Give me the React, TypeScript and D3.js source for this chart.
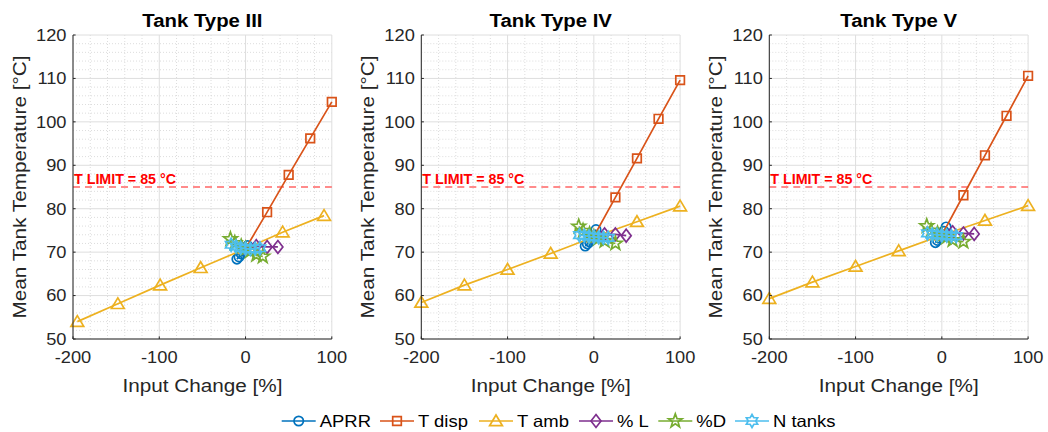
import React from 'react';
import * as d3 from 'd3';

// ---- axis settings ----
const xTicks = [-200, -100, 0, 100];
const yTicks = [50, 60, 70, 80, 90, 100, 110, 120];
const xDomain: [number, number] = [-200, 100];
const yDomain: [number, number] = [50, 120];
const tLimit = 85;
const panelTitles = ['Tank Type III', 'Tank Type IV', 'Tank Type V'];
const seriesNames = ['APRR', 'T disp', 'T amb', '% L', '%D', 'N tanks'];

// ---- shared input-change values ----
const tdispX = [0, 25, 50, 75, 100];
const tambX = [-200, -150, -100, -50, 0, 50, 100];
const pctLX = [0, 12.5, 25, 37.5];
const nTanksX = [-16.7, -11.1, -5.6, 0, 5.6, 11.1, 16.7];

// ---- Tank Type III ----
const aprrX3 = [-10, -7.5, -5, -2.5, 0, 2.5];
const aprrT3 = [68.4, 68.9, 69.6, 70.2, 70.8, 71.5];
const tdispT3 = [70.8, 79.2, 87.8, 96.2, 104.6];
const tambX3 = [-195, -148, -99, -52, 0, 43, 91];
const tambT3 = [54.0, 58.1, 62.4, 66.4, 70.8, 74.6, 78.4];
const pctLT3 = [70.8, 71.4, 71.2, 71.2];
const pctDX3 = [-17.5, -12.5, -5, 0, 5, 12.5, 20];
const pctDT3 = [73.0, 72.1, 71.3, 70.8, 70.2, 69.4, 69.0];
const nTanksT3 = [71.7, 71.3, 71.0, 70.8, 70.7, 70.8, 70.9];

// ---- Tank Type IV ----
const aprrX4 = [-10, -7.5, -5, -2.5, 0, 2.5];
const aprrT4 = [71.4, 71.9, 72.4, 72.9, 73.6, 75.2];
const tdispT4 = [73.6, 82.6, 91.6, 100.7, 109.6];
const tambT4 = [58.4, 62.4, 66.0, 69.7, 73.5, 77.0, 80.6];
const pctLT4 = [73.5, 74.1, 74.1, 73.8];
const pctDX4 = [-17.5, -12.5, -5, 0, 5, 12.5, 25];
const pctDT4 = [75.9, 74.9, 74.1, 73.5, 73.1, 72.6, 72.0];
const nTanksT4 = [73.9, 73.8, 73.6, 73.5, 73.4, 73.3, 73.3];

// ---- Tank Type V ----
const aprrX5 = [-7.5, -5, -2.5, 0, 2.5, 5];
const aprrT5 = [72.2, 72.7, 73.2, 73.9, 74.8, 75.8];
const tdispT5 = [73.9, 83.1, 92.3, 101.4, 110.6];
const tambT5 = [59.3, 63.1, 66.7, 70.3, 73.9, 77.3, 80.7];
const pctLT5 = [73.9, 74.6, 74.3, 74.2];
const pctDX5 = [-17.5, -12.5, -5, 0, 5, 12.5, 25];
const pctDT5 = [76.0, 75.0, 74.3, 73.9, 73.4, 72.8, 72.4];
const nTanksT5 = [74.3, 74.1, 74.0, 73.9, 73.8, 73.7, 73.7];

const colors = ['#0072BD', '#D95319', '#EDB120', '#7E2F8E', '#77AC30', '#4DBEEE'];
const markers = ['o', 's', '^', 'd', 'p', 'h'];

type Series = { x: number[]; y: number[] };

const panelData: Series[][] = [
  [
    { x: aprrX3, y: aprrT3 },
    { x: tdispX, y: tdispT3 },
    { x: tambX3, y: tambT3 },
    { x: pctLX, y: pctLT3 },
    { x: pctDX3, y: pctDT3 },
    { x: nTanksX, y: nTanksT3 },
  ],
  [
    { x: aprrX4, y: aprrT4 },
    { x: tdispX, y: tdispT4 },
    { x: tambX, y: tambT4 },
    { x: pctLX, y: pctLT4 },
    { x: pctDX4, y: pctDT4 },
    { x: nTanksX, y: nTanksT4 },
  ],
  [
    { x: aprrX5, y: aprrT5 },
    { x: tdispX, y: tdispT5 },
    { x: tambX, y: tambT5 },
    { x: pctLX, y: pctLT5 },
    { x: pctDX5, y: pctDT5 },
    { x: nTanksX, y: nTanksT5 },
  ],
];

// ---- layout ----
const W = 1048;
const H = 432;
const panelLefts = [73, 421.3, 769.3];
const plotW = 258.8;
const plotTop = 35;
const plotBottom = 339;
const FONT = '"Liberation Sans", Arial, Helvetica, sans-serif';
const SX = 1.12; // horizontal stretch of the glyphs
const textColor = '#262626';
const SW = 1.7; // line and marker stroke width

function starPath(n: number, rOut: number, rIn: number): string {
  const pts: [number, number][] = [];
  for (let i = 0; i < n * 2; i++) {
    const r = i % 2 === 0 ? rOut : rIn;
    const a = -Math.PI / 2 + (i * Math.PI) / n;
    pts.push([r * Math.cos(a), r * Math.sin(a)]);
  }
  return 'M' + pts.map((p) => p[0].toFixed(2) + ',' + p[1].toFixed(2)).join('L') + 'Z';
}

function markerPath(kind: string): string {
  switch (kind) {
    case 'o': {
      const p = d3.path();
      p.arc(0, 0, 4.7, 0, Math.PI * 2);
      p.closePath();
      return p.toString();
    }
    case 's':
      return 'M-4.3,-4.3L4.3,-4.3L4.3,4.3L-4.3,4.3Z';
    case '^':
      return 'M0,-6L6.4,4.7L-6.4,4.7Z';
    case 'd':
      return 'M0,-6.4L5,0L0,6.4L-5,0Z';
    case 'p':
      return starPath(5, 7.2, 2.9);
    case 'h':
      return starPath(6, 6.5, 3.75);
    default:
      return '';
  }
}

function Panel({ idx }: { idx: number }) {
  const left = panelLefts[idx];
  const x = d3.scaleLinear().domain(xDomain).range([left, left + plotW]);
  const y = d3.scaleLinear().domain(yDomain).range([plotBottom, plotTop]);
  const line = d3
    .line<[number, number]>()
    .x((d) => x(d[0]))
    .y((d) => y(d[1]));

  const minorX = d3.range(xDomain[0], xDomain[1] + 0.1, 20).filter((v) => !xTicks.includes(v));
  const minorY = d3.range(yDomain[0], yDomain[1] + 0.1, 2).filter((v) => !yTicks.includes(v));
  const cx = left + plotW / 2;

  return (
    <g>
      {/* minor grid */}
      {minorX.map((v) => (
        <line key={'mx' + v} x1={x(v)} x2={x(v)} y1={plotTop} y2={plotBottom}
          stroke="#cfcfcf" strokeWidth={0.7} strokeDasharray="1 2" />
      ))}
      {minorY.map((v) => (
        <line key={'my' + v} x1={left} x2={left + plotW} y1={y(v)} y2={y(v)}
          stroke="#cfcfcf" strokeWidth={0.7} strokeDasharray="1 2" />
      ))}
      {/* major grid */}
      {xTicks.map((v) => (
        <line key={'gx' + v} x1={x(v)} x2={x(v)} y1={plotTop} y2={plotBottom}
          stroke="#dedede" strokeWidth={1} />
      ))}
      {yTicks.map((v) => (
        <line key={'gy' + v} x1={left} x2={left + plotW} y1={y(v)} y2={y(v)}
          stroke="#dedede" strokeWidth={1} />
      ))}

      {/* temperature limit */}
      <line x1={left} x2={left + plotW} y1={y(tLimit)} y2={y(tLimit)}
        stroke="#ff3030" strokeOpacity={0.75} strokeWidth={1.6} strokeDasharray="7 5" />
      <text transform={`translate(${left + 1},${y(tLimit) - 3.5}) scale(1.02,1)`}
        fontFamily={FONT} fontSize={14} fontWeight="bold" fill="#ff0000">
        T LIMIT = 85 °C
      </text>

      {/* data series */}
      {panelData[idx].map((s, si) => {
        const pts: [number, number][] = s.x.map((v, i) => [v, s.y[i]]);
        return (
          <g key={'s' + si}>
            <path d={line(pts) || ''} fill="none" stroke={colors[si]} strokeWidth={SW} />
            {pts.map((p, i) => (
              <path key={i} d={markerPath(markers[si])}
                transform={`translate(${x(p[0])},${y(p[1])})`}
                fill="none" stroke={colors[si]} strokeWidth={SW} strokeLinejoin="miter" />
            ))}
          </g>
        );
      })}

      {/* axes */}
      <line x1={left} x2={left} y1={plotTop} y2={plotBottom} stroke={textColor} strokeWidth={1} />
      <line x1={left} x2={left + plotW} y1={plotBottom} y2={plotBottom} stroke={textColor} strokeWidth={1} />
      {xTicks.map((v) => (
        <line key={'tx' + v} x1={x(v)} x2={x(v)} y1={plotBottom} y2={plotBottom - 2.6}
          stroke={textColor} strokeWidth={1} />
      ))}
      {yTicks.map((v) => (
        <line key={'ty' + v} x1={left} x2={left + 2.6} y1={y(v)} y2={y(v)}
          stroke={textColor} strokeWidth={1} />
      ))}

      {/* tick labels */}
      {xTicks.map((v) => (
        <text key={'lx' + v} transform={`translate(${x(v)},${plotBottom + 24.4}) scale(${SX},1)`}
          textAnchor="middle" fontFamily={FONT} fontSize={16.3} fill={textColor}>
          {v}
        </text>
      ))}
      {yTicks.map((v) => (
        <text key={'ly' + v} transform={`translate(${left - 6.5},${y(v) + 5.8}) scale(${SX},1)`}
          textAnchor="end" fontFamily={FONT} fontSize={16.3} fill={textColor}>
          {v}
        </text>
      ))}

      {/* axis labels and title */}
      <text transform={`translate(${cx},${391.5}) scale(${SX},1)`} textAnchor="middle"
        fontFamily={FONT} fontSize={18.5} fill={textColor}>
        Input Change [%]
      </text>
      <text transform={`translate(${left - 47.5},${(plotTop + plotBottom) / 2}) rotate(-90) scale(${SX},1)`}
        textAnchor="middle" fontFamily={FONT} fontSize={18.5} fill={textColor}>
        Mean Tank Temperature [°C]
      </text>
      <text transform={`translate(${cx},${26.5}) scale(1.1,1)`} textAnchor="middle"
        fontFamily={FONT} fontSize={18.5} fontWeight="bold" fill="#000">
        {panelTitles[idx]}
      </text>
    </g>
  );
}

// legend entry start positions
const legendStarts = [281.7, 380, 479, 579, 658.3, 735];
const legendY = 421;

function Legend() {
  return (
    <g>
      {seriesNames.map((name, i) => {
        const x0 = legendStarts[i];
        return (
          <g key={name}>
            <line x1={x0} x2={x0 + 34} y1={legendY} y2={legendY} stroke={colors[i]} strokeWidth={SW} />
            <path d={markerPath(markers[i])} transform={`translate(${x0 + 17},${legendY})`}
              fill="none" stroke={colors[i]} strokeWidth={SW} />
            <text transform={`translate(${x0 + 38},${legendY + 6}) scale(${SX},1)`}
              fontFamily={FONT} fontSize={16.5} fill="#000">
              {name}
            </text>
          </g>
        );
      })}
    </g>
  );
}

export default function App() {
  return (
    <svg width={W} height={H} viewBox={`0 0 ${W} ${H}`}
      style={{ position: 'absolute', left: 0, top: 0, background: '#fff', display: 'block' }}>
      <rect x={0} y={0} width={W} height={H} fill="#fff" />
      {panelTitles.map((_, i) => (
        <Panel key={i} idx={i} />
      ))}
      <Legend />
    </svg>
  );
}
